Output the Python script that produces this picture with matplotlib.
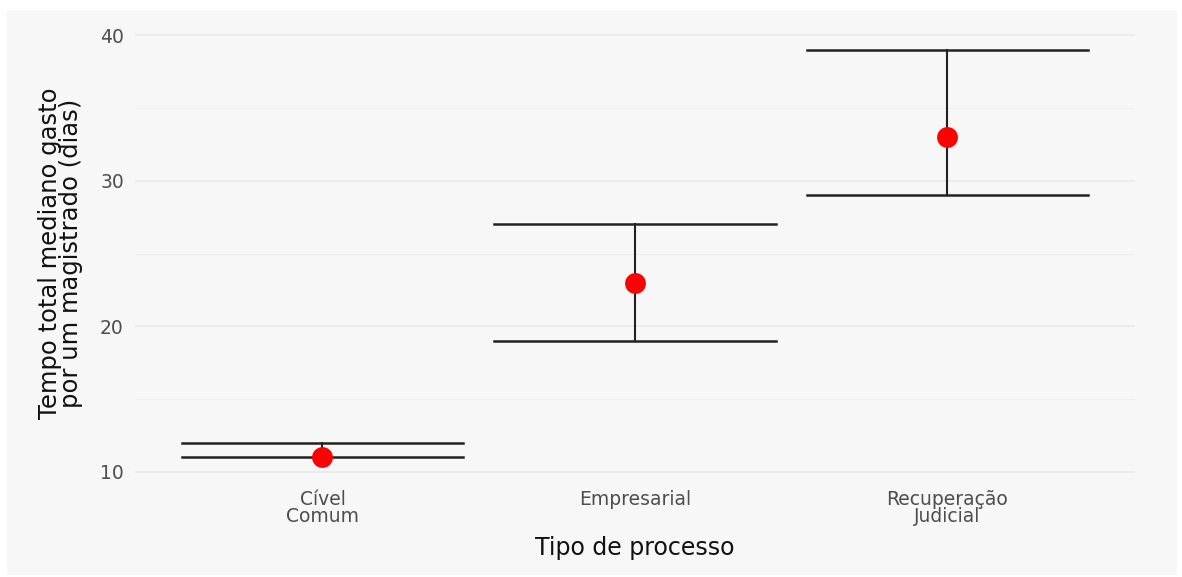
import numpy as np
import matplotlib
matplotlib.use('Agg')
import matplotlib.pyplot as plt
from matplotlib.patches import Rectangle

# dados
tipos = ['Cível\nComum', 'Empresarial', 'Recuperação\nJudicial']
mediana = [11, 23, 33]
inferior = [11, 19, 29]
superior = [12, 27, 39]

plt.rcParams['font.family'] = ['DejaVu Sans']

fig = plt.figure(figsize=(11.82, 5.77), dpi=100)
fig.patch.set_facecolor('white')
fig.patches.append(Rectangle((7/1182, 2/577), 1170/1182, 565/577,
                             transform=fig.transFigure, facecolor='#f7f7f7',
                             edgecolor='none', zorder=-10))

ax = fig.add_axes([0.1142, 0.172, 0.846, 0.777])
ax.set_facecolor('#f7f7f7')
ax.patch.set_alpha(0)

x = np.arange(1, len(tipos) + 1)
larg = 0.45
for xi, lo, hi in zip(x, inferior, superior):
    ax.plot([xi, xi], [lo, hi], color='#222222', lw=1.5, zorder=2)
    ax.plot([xi - larg, xi + larg], [lo, lo], color='#222222', lw=1.8, zorder=2)
    ax.plot([xi - larg, xi + larg], [hi, hi], color='#222222', lw=1.8, zorder=2)
ax.plot(x, mediana, 'o', color='#ff0000', markersize=15, zorder=3, markeredgewidth=0)

ax.set_xlim(0.4, 3.6)
ax.set_ylim(9.6, 40.4)
ax.set_yticks([10, 20, 30, 40])
ax.set_yticks([15, 25, 35], minor=True)
ax.set_xticks(x)
ax.set_xticklabels(tipos, linespacing=0.85)
ax.grid(which='major', axis='y', color='#ebebeb', lw=1.3)
ax.grid(which='minor', axis='y', color='#efefef', lw=0.8)
ax.set_axisbelow(True)
for s in ax.spines.values():
    s.set_visible(False)
ax.tick_params(axis='both', which='both', length=0, labelsize=13.5, labelcolor='#4d4d4d')
ax.tick_params(axis='x', pad=9)
ax.tick_params(axis='y', pad=8)

ax.set_xlabel('Tipo de processo', fontsize=17, color='#111111', labelpad=7)
ax.set_ylabel('Tempo total mediano gasto\npor um magistrado (dias)', fontsize=17.5,
              color='#111111', linespacing=0.85, labelpad=12)

fig.savefig('out.png', dpi=100)
